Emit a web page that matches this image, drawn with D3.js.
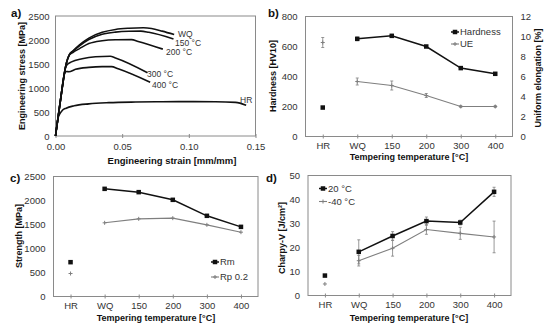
<!DOCTYPE html>
<html>
<head>
<meta charset="utf-8">
<script src="https://cdn.jsdelivr.net/npm/d3@7"></script>
<style>
  body { margin: 0; background: #fff; }
  text { font-family: "Liberation Sans", Arial, sans-serif; }
</style>
</head>
<body>
<svg id="chart" width="550" height="331"></svg>
<script>
// ---- data ----
// a) stress-strain curves [strain, stress]
const curveWQ = [[0,0],[0.004,800],[0.008,1500],[0.0105,1700],[0.013,1770],[0.018,1900],[0.025,2040],[0.035,2160],[0.045,2220],[0.055,2245],[0.066,2255],[0.072,2240],[0.08,2185],[0.089,2113]];
const curve150 = [[0,0],[0.004,800],[0.008,1500],[0.0105,1700],[0.013,1765],[0.018,1880],[0.025,2010],[0.035,2120],[0.045,2165],[0.055,2182],[0.064,2185],[0.07,2160],[0.0885,2023]];
const curve200 = [[0,0],[0.004,800],[0.008,1500],[0.0105,1690],[0.013,1740],[0.018,1820],[0.025,1925],[0.035,1985],[0.045,2005],[0.057,2008],[0.062,1970],[0.0805,1810]];
const curve300 = [[0,0],[0.004,800],[0.0075,1420],[0.0085,1480],[0.012,1545],[0.02,1610],[0.03,1650],[0.041,1660],[0.045,1625],[0.069,1318]];
const curve400 = [[0,0],[0.004,800],[0.007,1320],[0.0085,1345],[0.01,1338],[0.015,1390],[0.025,1430],[0.035,1445],[0.042,1445],[0.047,1400],[0.071,1120]];
const curveHR = [[0,0],[0.002,380],[0.003,450],[0.005,530],[0.008,580],[0.014,630],[0.025,670],[0.04,695],[0.06,708],[0.08,713],[0.1,716],[0.12,715],[0.135,700],[0.143,640]];
const curveNames = ["WQ", "150 °C", "200 °C", "300 °C", "400 °C", "HR"];
const curveLabelAt = [[0.0919,2125],[0.0896,1944],[0.0829,1750],[0.0686,1292],[0.0724,1063],[0.1384,750]];

// b, c, d) per condition
const categories = ["HR", "WQ", "150", "200", "300", "400"];
const hardness = [193, 651, 671, 600, 456, 418];
const hardnessErr = [0, 12, 10, 6, 6, 6];
const ue = [9.4, 5.5, 5.1, 4.1, 3.0, 3.0];
const ueErr = [0.5, 0.35, 0.45, 0.2, 0.1, 0.1];
const rm = [715, 2243, 2174, 2014, 1681, 1451];
const rp02 = [479, 1535, 1618, 1632, 1493, 1340];
const charpy20 = [8.3, 18.2, 24.8, 31.0, 30.4, 43.2];
const charpy20Err = [0, 5, 1.8, 1.7, 1.0, 1.9];
const charpy40 = [4.8, 14.5, 19.7, 27.5, 25.9, 24.4];
const charpy40Err = [0, 2.2, 3.3, 2.0, 2.5, 6.6];

const svg = d3.select("#chart");
const BLACK = "#111", GREY = "#7f7f7f", FRAME = "#8a8a8a", TICKTXT = "#333";

function frame(x0, x1, y0, y1) {
  svg.append("rect").attr("x", x0).attr("y", y0)
    .attr("width", x1 - x0).attr("height", y1 - y0)
    .attr("fill", "none").attr("stroke", FRAME).attr("stroke-width", 1);
}

function yAxis(scale, x, ticks, side, gap) {
  const g = svg.append("g").attr("transform", `translate(${x},0)`);
  const ax = (side === "left" ? d3.axisLeft(scale) : d3.axisRight(scale))
    .tickValues(ticks).tickSize(0).tickPadding(gap).tickFormat(d3.format("d"));
  g.call(ax);
  g.select(".domain").remove();
  g.selectAll("text").attr("font-size", 9.5).attr("fill", TICKTXT)
    .attr("font-family", "Liberation Sans, Arial, sans-serif");
}

function xAxis(scale, y, ticks, fmt, pad) {
  const g = svg.append("g").attr("transform", `translate(0,${y})`);
  const ax = d3.axisBottom(scale).tickSizeInner(2).tickSizeOuter(0).tickPadding(pad || 3.5);
  if (ticks) ax.tickValues(ticks);
  if (fmt) ax.tickFormat(fmt);
  g.call(ax);
  g.select(".domain").remove();
  g.selectAll(".tick line").attr("y1", -2).attr("stroke", FRAME);
  g.selectAll("text").attr("font-size", 9.5).attr("fill", TICKTXT)
    .attr("font-family", "Liberation Sans, Arial, sans-serif");
}

function title(txt, x, y, rot, size) {
  svg.append("text").attr("x", x).attr("y", y)
    .attr("transform", rot ? `rotate(-90,${x},${y})` : null)
    .attr("text-anchor", "middle").attr("dy", "0.35em")
    .attr("font-size", size || 9).attr("font-weight", "bold").attr("fill", BLACK)
    .text(txt);
}

function panelLetter(txt, x, y) {
  svg.append("text").attr("x", x).attr("y", y)
    .attr("font-size", 11.5).attr("font-weight", "bold").attr("fill", BLACK).text(txt);
}

function squareMark(x, y, s) {
  svg.append("rect").attr("x", x - s / 2).attr("y", y - s / 2)
    .attr("width", s).attr("height", s).attr("fill", BLACK);
}

function plusMark(x, y) {
  svg.append("path").attr("d", `M${x - 2},${y}H${x + 2}M${x},${y - 2}V${y + 2}`)
    .attr("stroke", GREY).attr("stroke-width", 1);
}

function errBar(x, yLo, yHi) {
  svg.append("path").attr("d", `M${x},${yLo}V${yHi}M${x - 1.5},${yLo}H${x + 1.5}M${x - 1.5},${yHi}H${x + 1.5}`)
    .attr("stroke", GREY).attr("stroke-width", 0.8).attr("fill", "none");
}

// draws a series: HR is a loose point, WQ..400 are connected
function series(xs, ys, vals, errs, style) {
  const pts = categories.map((c, i) => [xs(c), ys(vals[i])]);
  if (errs) categories.forEach((c, i) => {
    if (errs[i] > 0) errBar(xs(c), ys(vals[i] - errs[i]), ys(vals[i] + errs[i]));
  });
  svg.append("path").attr("d", d3.line()(pts.slice(1)))
    .attr("fill", "none")
    .attr("stroke", style === "black" ? BLACK : GREY)
    .attr("stroke-width", style === "black" ? 1.5 : 1.1);
  pts.forEach(p => style === "black" ? squareMark(p[0], p[1], 4.5) : plusMark(p[0], p[1]));
}

function legendItem(x, y, label, style) {
  svg.append("line").attr("x1", x - 4).attr("x2", x + 4).attr("y1", y).attr("y2", y)
    .attr("stroke", style === "black" ? BLACK : GREY).attr("stroke-width", style === "black" ? 1.5 : 1.1);
  if (style === "black") squareMark(x, y, 4.5); else plusMark(x, y);
  svg.append("text").attr("x", x + 5).attr("y", y).attr("dy", "0.35em")
    .attr("font-size", 9.5).attr("fill", TICKTXT).text(label);
}

// ---- a) ----
{
  const x = d3.scaleLinear([0, 0.15], [55.5, 255.5]);
  const y = d3.scaleLinear([0, 2500], [136, 16]);
  frame(55.5, 255.5, 16, 136);
  yAxis(y, 55.5, d3.range(0, 2501, 500), "left", 6);
  xAxis(x, 136, [0, 0.05, 0.1, 0.15], d3.format(".2f"), 5.5);
  const line = d3.line().x(d => x(d[0])).y(d => y(d[1])).curve(d3.curveMonotoneX);
  [curveWQ, curve150, curve200, curve300, curve400, curveHR].forEach(c => {
    svg.append("path").attr("d", line(c)).attr("fill", "none")
      .attr("stroke", BLACK).attr("stroke-width", 1.6);
  });
  curveNames.forEach((n, i) => {
    svg.append("text").attr("x", x(curveLabelAt[i][0])).attr("y", y(curveLabelAt[i][1]))
      .attr("dy", "0.35em").attr("font-size", 8.5).attr("fill", TICKTXT).text(n);
  });
  title("Engineering strain [mm/mm]", 172, 160.5, false, 9.5);
  title("Engineering stress [MPa]", 22, 76, true);
  panelLetter("a)", 11, 17);
}

// ---- b) ----
{
  const x = d3.scalePoint(categories, [305.5, 512.5]).padding(0.5);
  const y = d3.scaleLinear([0, 800], [136.5, 16.5]);
  const y2 = d3.scaleLinear([0, 12], [136.5, 16.5]);
  frame(305.5, 512.5, 16.5, 136.5);
  yAxis(y, 305.5, d3.range(0, 801, 200), "left", 8);
  yAxis(y2, 512.5, d3.range(0, 13, 2), "right", 8);
  xAxis(x, 136.5);
  series(x, y2, ue, ueErr, "grey");
  series(x, y, hardness, hardnessErr, "black");
  legendItem(455, 32, "Hardness", "black");
  legendItem(455, 44, "UE", "grey");
  title("Tempering temperature [°C]", 409, 157, false);
  title("Hardness [HV10]", 273, 76, true);
  title("Uniform elongation [%]", 538, 78, true);
  panelLetter("b)", 268, 17);
}

// ---- c) ----
{
  const x = d3.scalePoint(categories, [53.5, 258]).padding(0.5);
  const y = d3.scaleLinear([0, 2500], [296.5, 176.5]);
  frame(53.5, 258, 176.5, 296.5);
  yAxis(y, 53.5, d3.range(0, 2501, 500), "left", 8);
  xAxis(x, 296.5);
  series(x, y, rp02, null, "grey");
  series(x, y, rm, null, "black");
  legendItem(215, 262, "Rm", "black");
  legendItem(215, 277, "Rp 0.2", "grey");
  title("Tempering temperature [°C]", 156, 318, false);
  title("Strength [MPa]", 19, 236, true);
  panelLetter("c)", 10, 182);
}

// ---- d) ----
{
  const x = d3.scalePoint(categories, [308, 511]).padding(0.5);
  const y = d3.scaleLinear([0, 50], [295.5, 175.5]);
  frame(308, 511, 175.5, 295.5);
  yAxis(y, 308, d3.range(0, 51, 10), "left", 8);
  xAxis(x, 295.5);
  series(x, y, charpy40, charpy40Err, "grey");
  series(x, y, charpy20, charpy20Err, "black");
  legendItem(323, 188.5, "20 °C", "black");
  legendItem(323, 201.5, "-40 °C", "grey");
  title("Tempering temperature [°C]", 409, 318, false);
  title("Charpy-V [J/cm²]", 282, 238, true);
  panelLetter("d)", 266, 182);
}
</script>
</body>
</html>
